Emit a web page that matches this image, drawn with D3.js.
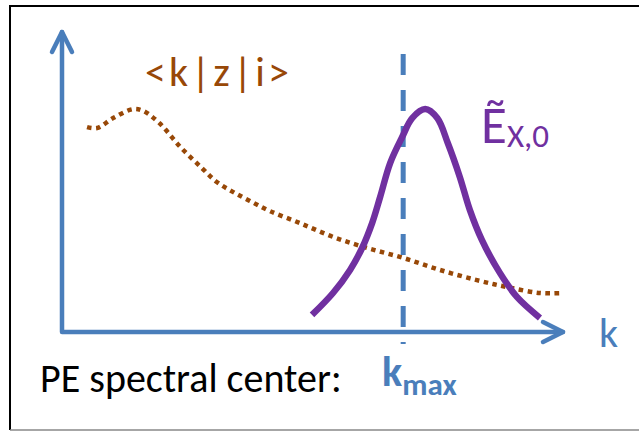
<!DOCTYPE html>
<html>
<head>
<meta charset="utf-8">
<script src="https://cdn.jsdelivr.net/npm/d3@7"></script>
<style>
  html, body { margin: 0; padding: 0; background: #fff; }
  svg { display: block; }
  text { font-family: Carlito, Lato, "Open Sans", sans-serif; }
</style>
</head>
<body>
<svg id="chart" width="639" height="431"></svg>
<script>
// Photo-emission spectrum sketch: overlap <k|z|i> (dotted) and the pulse spectrum Ẽ_X,0 (solid)

// <k|z|i> dipole matrix element, sampled along k
const dipoleK = [5.0, 7.0, 10.2, 14.2, 16.2, 19.4, 23.6, 27.9, 30.9, 34.1, 37.5, 41.5, 47.5, 54.1, 60.9, 68.1, 75.4, 82.8, 88.8, 95.4, 100];
const dipoleV = [68.3, 68.0, 71.3, 74.3, 73.7, 69.7, 61.7, 54.7, 50.0, 46.7, 43.7, 40.3, 36.3, 31.7, 28.0, 24.7, 20.7, 17.3, 15.0, 13.0, 13.0];

// Ẽ_X,0 pulse spectrum, sampled along k
const pulseK = [49.9, 54.1, 57.5, 59.9, 61.9, 63.5, 65.5, 67.9, 69.9, 72.5, 74.9, 77.0, 79.4, 81.4, 83.8, 87.4, 90.8, 95.4];
const pulseV = [5.7, 13.0, 20.7, 28.0, 36.3, 45.0, 56.3, 65.0, 71.3, 74.3, 71.3, 63.0, 51.7, 40.7, 30.7, 19.7, 11.7, 4.7];

// spectral centre and the vertical extent of its marker line
const kMax = 68.1;
const kMaxSpan = [-4, 92.7];

const colors = { axis: "#4A7EBB", pulse: "#7030A0", dipole: "#984807", text: "#000" };

const svg = d3.select("#chart");

// frame
svg.append("path").attr("d", "M639,6H10V430").attr("fill", "none").attr("stroke", "#000").attr("stroke-width", 2);
svg.append("line").attr("x1", 10).attr("x2", 639).attr("y1", 430).attr("y2", 430).attr("stroke", "#888").attr("stroke-width", 1.5);

const x = d3.scaleLinear().domain([0, 100]).range([62, 563]);
const y = d3.scaleLinear().domain([0, 100]).range([332, 32]);

// axes with open arrowheads
const axisG = svg.append("g").attr("stroke", colors.axis).attr("stroke-width", 4.5)
  .attr("fill", "none").attr("stroke-linecap", "round").attr("stroke-linejoin", "round");
axisG.append("path").attr("d", `M${x(0)},${y(100)}V${y(0)}H${x(100)}`);
axisG.append("path").attr("d", `M${x(0) - 10},${y(100) + 20}L${x(0)},${y(100)}L${x(0) + 10},${y(100) + 20}`);
axisG.append("path").attr("d", `M${x(100) - 20},${y(0) - 10}L${x(100)},${y(0)}L${x(100) - 20},${y(0) + 10}`);

// k_max marker
svg.append("line")
  .attr("x1", x(kMax)).attr("x2", x(kMax))
  .attr("y1", y(kMaxSpan[1])).attr("y2", y(kMaxSpan[0]))
  .attr("stroke", colors.axis).attr("stroke-width", 5)
  .attr("stroke-dasharray", "21 15");

// dotted <k|z|i>
const dipoleLine = d3.line().x(d => x(d[0])).y(d => y(d[1])).curve(d3.curveCatmullRom);
svg.append("path")
  .attr("d", dipoleLine(d3.zip(dipoleK, dipoleV)))
  .attr("fill", "none").attr("stroke", colors.dipole)
  .attr("stroke-width", 4.5).attr("stroke-dasharray", "4.5 4.5");

// pulse spectrum
const pulseLine = d3.line().x(d => x(d[0])).y(d => y(d[1])).curve(d3.curveCatmullRom);
svg.append("path")
  .attr("d", pulseLine(d3.zip(pulseK, pulseV)))
  .attr("fill", "none").attr("stroke", colors.pulse)
  .attr("stroke-width", 6.5).attr("stroke-linejoin", "round");

// labels
svg.append("text").attr("x", 145).attr("y", 86)
  .attr("fill", colors.dipole).attr("font-size", 42).attr("letter-spacing", 3)
  .text("<k|z|i>");

const eLab = svg.append("text").attr("x", 481).attr("y", 143)
  .attr("fill", colors.pulse).attr("font-size", 53);
eLab.append("tspan").text("Ẽ");
eLab.append("tspan").attr("font-size", 33).attr("dy", 4).text("X,0");

svg.append("text").attr("x", 599).attr("y", 347)
  .attr("fill", colors.axis).attr("font-size", 42).text("k");

svg.append("text").attr("x", 40).attr("y", 392)
  .attr("fill", colors.text).attr("font-size", 40).text("PE spectral center:");

const kLab = svg.append("text").attr("x", 382).attr("y", 386)
  .attr("fill", colors.axis).attr("font-size", 42).attr("font-weight", "bold");
kLab.append("tspan").text("k");
kLab.append("tspan").attr("font-size", 31).attr("dy", 9).text("max");
</script>
</body>
</html>
